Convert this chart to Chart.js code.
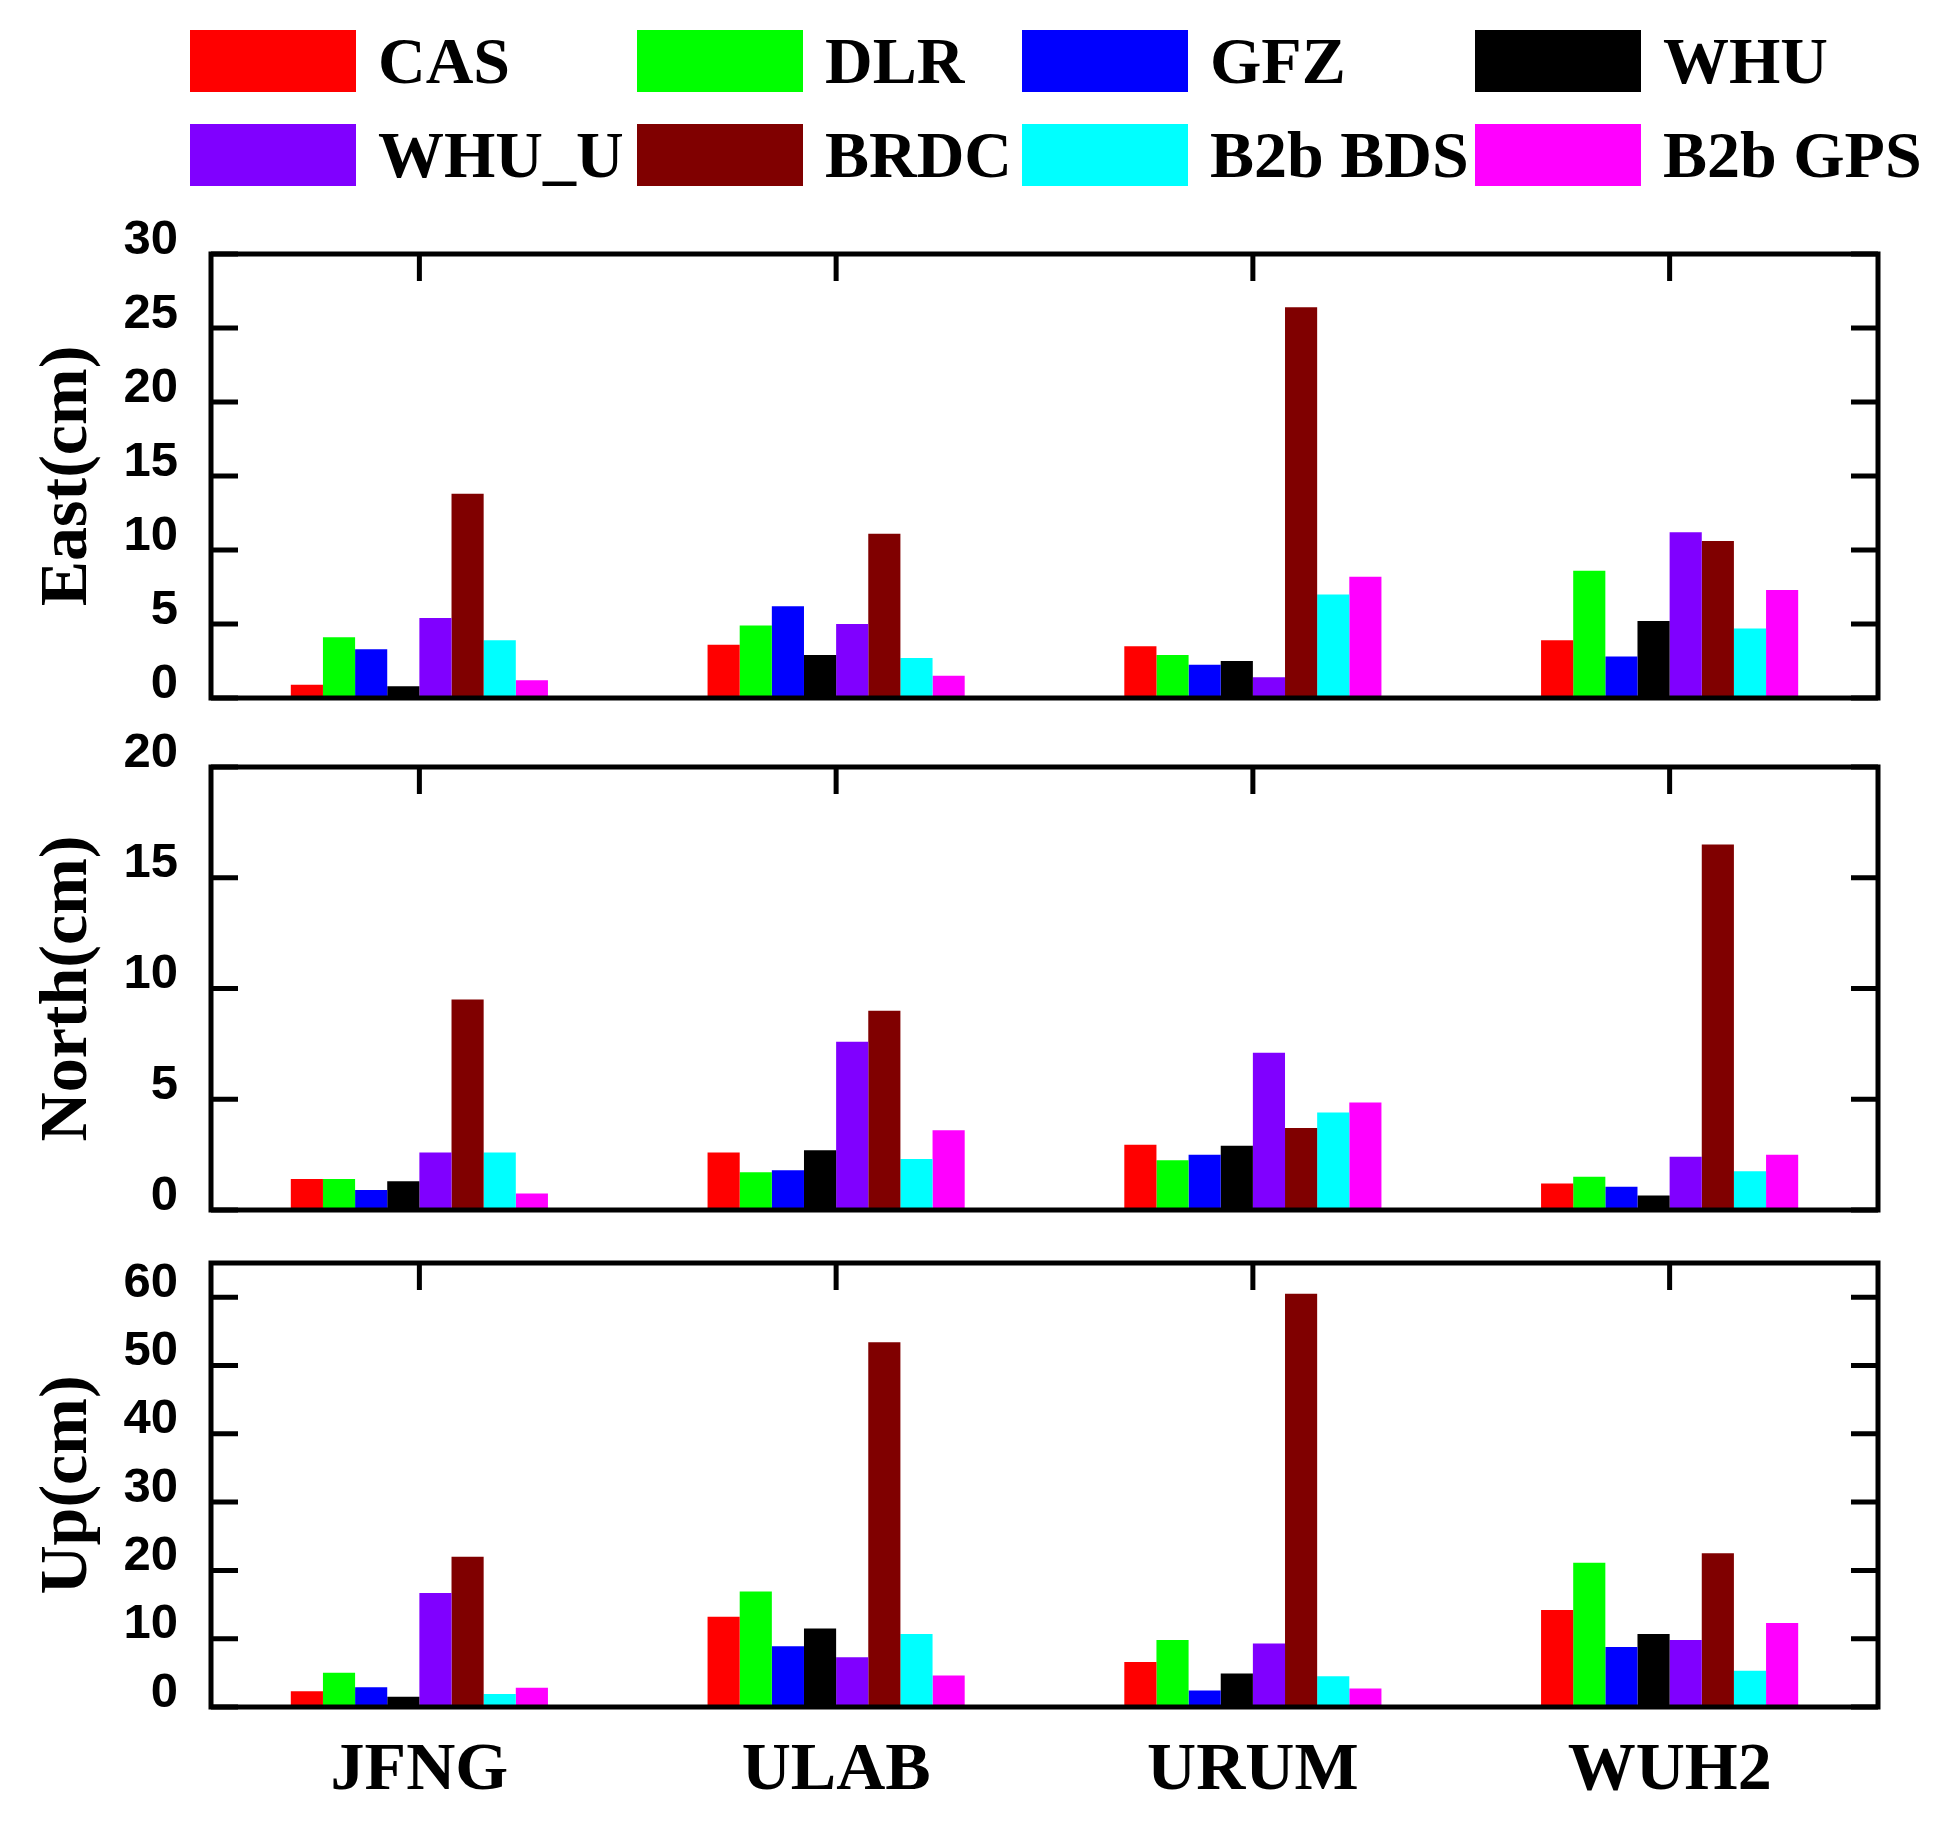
<!DOCTYPE html>
<html>
<head>
<meta charset="utf-8">
<script src="https://cdn.jsdelivr.net/npm/chart.js@4.4.0/dist/chart.umd.min.js"></script>
<style>
  html, body { margin: 0; padding: 0; background: #fff; }
  body { position: relative; width: 1950px; height: 1825px; overflow: hidden; }
  canvas { position: absolute; left: 0; }
  #legend {
    position: absolute; left: 190px; top: 30px; z-index: 2;
    display: grid; grid-template-columns: 447px 385px 453px 300px; row-gap: 32px;
    font: bold 66px "Liberation Serif", "Times New Roman", serif; color: #000;
  }
  .item { display: flex; align-items: center; height: 62px; white-space: nowrap; }
  .swatch { width: 166px; height: 62px; margin-right: 22px; flex: none; }
</style>
</head>
<body>
<div id="legend"></div>
<canvas id="east" width="1950" height="536" style="top:204px"></canvas>
<canvas id="north" width="1950" height="533" style="top:717px"></canvas>
<canvas id="up" width="1950" height="612" style="top:1213px"></canvas>
<script>
// stations on the x axis
const stations = ['JFNG', 'ULAB', 'URUM', 'WUH2'];
// orbit/clock products
const products = ['CAS', 'DLR', 'GFZ', 'WHU', 'WHU_U', 'BRDC', 'B2b BDS', 'B2b GPS'];
const productColors = ['#ff0000', '#00ff00', '#0000ff', '#000000', '#8000ff', '#800000', '#00ffff', '#ff00ff'];

// rows follow products, columns follow stations (cm)
const eastCm = [
  [0.9, 3.6, 3.5, 3.9],
  [4.1, 4.9, 2.9, 8.6],
  [3.3, 6.2, 2.25, 2.8],
  [0.8, 2.9, 2.5, 5.2],
  [5.4, 5.0, 1.4, 11.2],
  [13.8, 11.1, 26.4, 10.6],
  [3.9, 2.7, 7.0, 4.7],
  [1.2, 1.5, 8.2, 7.3]
];
const northCm = [
  [1.4, 2.6, 2.95, 1.2],
  [1.4, 1.7, 2.25, 1.5],
  [0.9, 1.8, 2.5, 1.05],
  [1.3, 2.7, 2.9, 0.65],
  [2.6, 7.6, 7.1, 2.4],
  [9.5, 9.0, 3.7, 16.5],
  [2.6, 2.3, 4.4, 1.75],
  [0.75, 3.6, 4.85, 2.5]
];
const upCm = [
  [2.3, 13.2, 6.6, 14.2],
  [5.0, 16.9, 9.8, 21.1],
  [2.9, 8.9, 2.4, 8.8],
  [1.5, 11.5, 4.9, 10.7],
  [16.7, 7.3, 9.3, 9.8],
  [22.0, 53.4, 60.5, 22.5],
  [1.9, 10.7, 4.5, 5.3],
  [2.8, 4.6, 2.7, 12.3]
];

// axis ranges: [max, step]
const eastAxis = [30, 5];
const northAxis = [20, 5];
const upAxis = [65, 10];

Chart.defaults.color = '#000';

// legend in a 4-column grid
const legend = document.getElementById('legend');
products.forEach((name, i) => {
  const item = document.createElement('div');
  item.className = 'item';
  const sw = document.createElement('span');
  sw.className = 'swatch';
  sw.style.background = productColors[i];
  item.appendChild(sw);
  item.appendChild(document.createTextNode(name));
  legend.appendChild(item);
});

// box around the plot, ticks pointing inward
const framePlugin = {
  id: 'frame',
  afterDatasetsDraw(chart) {
    const {ctx, chartArea: a, scales: {x, y}} = chart;
    const len = 27;
    ctx.save();
    ctx.strokeStyle = '#000';
    ctx.lineWidth = 5;
    ctx.beginPath();
    y.ticks.forEach(t => {
      const py = y.getPixelForValue(t.value);
      ctx.moveTo(a.left, py); ctx.lineTo(a.left + len, py);
      ctx.moveTo(a.right, py); ctx.lineTo(a.right - len, py);
    });
    stations.forEach((s, i) => {
      const px = x.getPixelForValue(i);
      ctx.moveTo(px, a.top); ctx.lineTo(px, a.top + len);
    });
    ctx.stroke();
    ctx.strokeRect(a.left, a.top, a.right - a.left, a.bottom - a.top);
    ctx.restore();
  }
};

function makePanel(id, values, title, axis, showStations, bottomPad) {
  return new Chart(document.getElementById(id), {
    type: 'bar',
    data: {
      labels: stations,
      datasets: products.map((name, i) => ({
        label: name,
        data: values[i],
        backgroundColor: productColors[i],
        borderWidth: 0,
        categoryPercentage: 0.617,
        barPercentage: 1
      }))
    },
    options: {
      responsive: false,
      animation: false,
      devicePixelRatio: 1,
      layout: { padding: { top: 50, right: 72, bottom: bottomPad, left: 0 } },
      plugins: { legend: { display: false }, tooltip: { enabled: false } },
      scales: {
        x: {
          display: showStations,
          grid: { display: false, drawTicks: false },
          border: { display: false },
          ticks: {
            padding: 24, maxRotation: 0, autoSkip: false,
            font: { family: '"Liberation Serif", "Times New Roman", serif', size: 68, weight: 'bold' }
          },
          afterFit: s => {
            s.height = showStations ? 118 : 0;
            s.paddingLeft = 0;
            s.paddingRight = 0;
          }
        },
        y: {
          min: 0,
          max: axis[0],
          grid: { display: false, drawTicks: false },
          border: { display: false },
          ticks: {
            stepSize: axis[1], includeBounds: false, autoSkip: false, padding: 33, labelOffset: -14,
            font: { family: '"Liberation Sans", Arial, sans-serif', size: 49, weight: 'bold' }
          },
          title: {
            display: true, text: title,
            font: { family: '"Liberation Serif", "Times New Roman", serif', size: 68, weight: 'bold' },
            padding: { top: 28, bottom: 0 }
          },
          afterFit: s => {
            s.width = 211;
            s.paddingTop = 0;
            s.paddingBottom = 0;
          }
        }
      }
    },
    plugins: [framePlugin]
  });
}

makePanel('east', eastCm, 'East(cm)', eastAxis, false, 42);
makePanel('north', northCm, 'North(cm)', northAxis, false, 40);
makePanel('up', upCm, 'Up(cm)', upAxis, true, 0);
</script>
</body>
</html>
